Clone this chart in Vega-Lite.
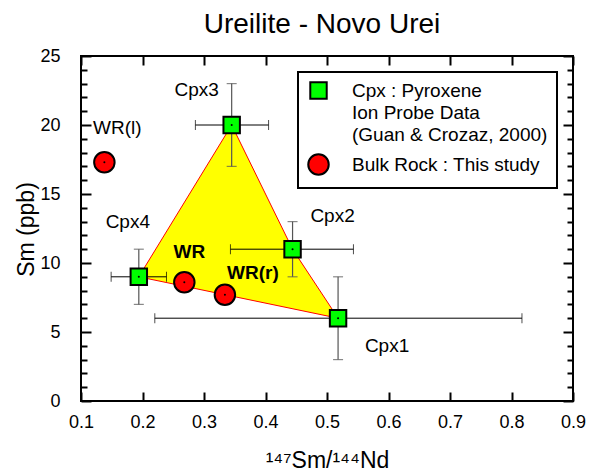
{
  "$schema": "https://vega.github.io/schema/vega-lite/v6.json",
  "autosize": "none",
  "width": 492,
  "height": 345,
  "padding": {"left": 81, "top": 56, "right": 16, "bottom": 71},
  "background": "white",
  "config": {
    "view": {"stroke": "black", "strokeWidth": 2},
    "font": "Liberation Sans",
    "axis": {"grid": false, "domain": false, "labelFlush": false, "labelColor": "black", "tickColor": "black", "titleColor": "black", "titleFontWeight": "normal", "labelFont": "Liberation Sans", "titleFont": "Liberation Sans"},
    "legend": {"title": null, "orient": "top-right", "offset": 16, "strokeColor": "black", "fillColor": "white", "padding": 9, "labelFontSize": 19, "labelLimit": 300, "labelColor": "black", "labelOffset": 22, "symbolStrokeColor": "black", "symbolStrokeWidth": 2, "rowPadding": 5}
  },
  "title": {"text": "Ureilite - Novo Urei", "fontSize": 28, "font": "Liberation Sans", "fontWeight": "normal", "color": "black", "baseline": "alphabetic", "frame": "group", "offset": -14, "dx": -5, "anchor": "middle"},
  "datasets": {
    "pts": [
      {"name": "Cpx1", "type": "Cpx", "x": 0.518, "y": 6.0, "xlo": 0.220, "xhi": 0.817, "ylo": 3.0, "yhi": 9.0},
      {"name": "Cpx2", "type": "Cpx", "x": 0.444, "y": 11.0, "xlo": 0.343, "xhi": 0.543, "ylo": 9.0, "yhi": 13.0},
      {"name": "Cpx3", "type": "Cpx", "x": 0.345, "y": 20.0, "xlo": 0.286, "xhi": 0.405, "ylo": 17.0, "yhi": 23.0},
      {"name": "Cpx4", "type": "Cpx", "x": 0.194, "y": 9.0, "xlo": 0.149, "xhi": 0.239, "ylo": 7.0, "yhi": 11.0},
      {"name": "WR(l)", "type": "Bulk", "x": 0.138, "y": 17.3},
      {"name": "WR", "type": "Bulk", "x": 0.268, "y": 8.6},
      {"name": "WR(r)", "type": "Bulk", "x": 0.334, "y": 7.7}
    ],
    "poly": [
      {"i": 0, "name": "Cpx4", "x": 0.194, "y": 9.0},
      {"i": 1, "name": "Cpx3", "x": 0.345, "y": 20.0},
      {"i": 2, "name": "Cpx2", "x": 0.444, "y": 11.0},
      {"i": 3, "name": "Cpx1", "x": 0.518, "y": 6.0},
      {"i": 4, "name": "Cpx4", "x": 0.194, "y": 9.0}
    ]
  },
  "resolve": {"axis": {"x": "independent", "y": "independent"}},
  "layer": [
    {
      "data": {"name": "poly"},
      "mark": {"type": "line", "fill": "#ffff00", "stroke": "#ff0000", "strokeWidth": 1},
      "encoding": {
        "x": {"field": "x", "type": "quantitative", "scale": {"domain": [0.1, 0.9], "nice": false, "zero": false},
          "axis": {"orient": "bottom", "values": [0.1, 0.2, 0.3, 0.4, 0.5, 0.6, 0.7, 0.8, 0.9], "format": ".1f", "tickSize": -9, "tickWidth": 2, "labelFontSize": 18, "labelPadding": 21, "title": "¹⁴⁷Sm/¹⁴⁴Nd", "titleFontSize": 23, "titleBaseline": "alphabetic", "titleX": 246, "titleY": 66}},
        "y": {"field": "y", "type": "quantitative", "scale": {"domain": [0, 25], "nice": false, "zero": false},
          "axis": {"orient": "left", "values": [0,1,2,3,4,5,6,7,8,9,10,11,12,13,14,15,16,17,18,19,20,21,22,23,24,25], "labelExpr": "datum.value % 5 === 0 ? datum.label : ''", "tickSize": {"condition": {"test": "datum.value % 5 === 0", "value": -10}, "value": -6}, "tickWidth": 2, "labelFontSize": 18, "labelPadding": 31, "title": "Sm (ppb)", "titleFontSize": 23, "titleBaseline": "alphabetic", "titleAlign": "center", "titleX": -48, "titleY": 173}},
        "order": {"field": "i", "type": "quantitative"}
      }
    },
    {
      "data": {"name": "pts"},
      "transform": [{"filter": "datum.type === 'Cpx'"}],
      "mark": {"type": "rule", "color": "black", "strokeWidth": 1},
      "encoding": {
        "x": {"field": "xlo", "type": "quantitative", "axis": {"orient": "top", "values": [0.1, 0.2, 0.3, 0.4, 0.5, 0.6, 0.7, 0.8, 0.9], "labels": false, "tickSize": -9, "tickWidth": 2, "title": null}},
        "x2": {"field": "xhi"},
        "y": {"field": "y", "type": "quantitative", "axis": {"orient": "right", "values": [0,1,2,3,4,5,6,7,8,9,10,11,12,13,14,15,16,17,18,19,20,21,22,23,24,25], "labels": false, "tickSize": {"condition": {"test": "datum.value % 5 === 0", "value": -10}, "value": -6}, "tickWidth": 2, "title": null}}
      }
    },
    {
      "data": {"name": "pts"},
      "transform": [{"filter": "datum.type === 'Cpx'"}],
      "mark": {"type": "rule", "color": "#555555", "strokeWidth": 1.2},
      "encoding": {
        "x": {"field": "x", "type": "quantitative", "axis": null},
        "y": {"field": "ylo", "type": "quantitative", "axis": null},
        "y2": {"field": "yhi"}
      }
    },
    {
      "data": {"name": "pts"},
      "transform": [{"filter": "datum.type === 'Cpx'"}, {"fold": ["xlo", "xhi"], "as": ["end", "xe"]}],
      "mark": {"type": "tick", "orient": "vertical", "color": "black", "size": 10, "thickness": 1},
      "encoding": {
        "x": {"field": "xe", "type": "quantitative", "axis": null},
        "y": {"field": "y", "type": "quantitative", "axis": null}
      }
    },
    {
      "data": {"name": "pts"},
      "transform": [{"filter": "datum.type === 'Cpx'"}, {"fold": ["ylo", "yhi"], "as": ["end", "ye"]}],
      "mark": {"type": "tick", "orient": "horizontal", "color": "#555555", "size": 10, "thickness": 1.2},
      "encoding": {
        "x": {"field": "x", "type": "quantitative", "axis": null},
        "y": {"field": "ye", "type": "quantitative", "axis": null}
      }
    },
    {
      "data": {"name": "pts"},
      "mark": {"type": "point", "filled": true, "stroke": "black", "strokeWidth": 2, "opacity": 1},
      "encoding": {
        "x": {"field": "x", "type": "quantitative", "axis": null},
        "y": {"field": "y", "type": "quantitative", "axis": null},
        "shape": {"field": "type", "type": "nominal", "scale": {"domain": ["Cpx", "Bulk"], "range": ["square", "circle"]},
          "legend": {"labelExpr": "datum.value === 'Cpx' ? ['Cpx : Pyroxene', 'Ion Probe Data', '(Guan & Crozaz, 2000)'] : 'Bulk Rock : This study'",
            "encoding": {"symbols": {"stroke": {"value": "black"}, "strokeWidth": {"value": 2}}, "labels": {"lineHeight": {"value": 22}}, "legend": {"strokeWidth": {"value": 2}}}}},
        "fill": {"field": "type", "type": "nominal", "scale": {"domain": ["Cpx", "Bulk"], "range": ["#00ff00", "#ff0000"]},
          "legend": {"labelExpr": "datum.value === 'Cpx' ? ['Cpx : Pyroxene', 'Ion Probe Data', '(Guan & Crozaz, 2000)'] : 'Bulk Rock : This study'",
            "encoding": {"symbols": {"stroke": {"value": "black"}, "strokeWidth": {"value": 2}}, "labels": {"lineHeight": {"value": 22}}, "legend": {"strokeWidth": {"value": 2}}}}},
        "size": {"field": "type", "type": "nominal", "scale": {"domain": ["Cpx", "Bulk"], "range": [270, 420]},
          "legend": {"labelExpr": "datum.value === 'Cpx' ? ['Cpx : Pyroxene', 'Ion Probe Data', '(Guan & Crozaz, 2000)'] : 'Bulk Rock : This study'",
            "encoding": {"symbols": {"stroke": {"value": "black"}, "strokeWidth": {"value": 2}}, "labels": {"lineHeight": {"value": 22}}, "legend": {"strokeWidth": {"value": 2}}}}}
      }
    },
    {
      "data": {"name": "pts"},
      "mark": {"type": "point", "filled": true, "color": "black", "size": 4, "opacity": 1},
      "encoding": {
        "x": {"field": "x", "type": "quantitative", "axis": null},
        "y": {"field": "y", "type": "quantitative", "axis": null}
      }
    },
    {
      "data": {"name": "pts"},
      "transform": [{"filter": "datum.name === 'Cpx3'"}],
      "mark": {"type": "text", "fontSize": 19, "color": "black", "dx": -35, "dy": -35},
      "encoding": {"x": {"field": "x", "type": "quantitative", "axis": null}, "y": {"field": "y", "type": "quantitative", "axis": null}, "text": {"field": "name"}}
    },
    {
      "data": {"name": "pts"},
      "transform": [{"filter": "datum.name === 'Cpx2'"}],
      "mark": {"type": "text", "fontSize": 19, "color": "black", "dx": 40, "dy": -33},
      "encoding": {"x": {"field": "x", "type": "quantitative", "axis": null}, "y": {"field": "y", "type": "quantitative", "axis": null}, "text": {"field": "name"}}
    },
    {
      "data": {"name": "pts"},
      "transform": [{"filter": "datum.name === 'Cpx1'"}],
      "mark": {"type": "text", "fontSize": 19, "color": "black", "dx": 49, "dy": 28},
      "encoding": {"x": {"field": "x", "type": "quantitative", "axis": null}, "y": {"field": "y", "type": "quantitative", "axis": null}, "text": {"field": "name"}}
    },
    {
      "data": {"name": "pts"},
      "transform": [{"filter": "datum.name === 'Cpx4'"}],
      "mark": {"type": "text", "fontSize": 19, "color": "black", "dx": -11, "dy": -55},
      "encoding": {"x": {"field": "x", "type": "quantitative", "axis": null}, "y": {"field": "y", "type": "quantitative", "axis": null}, "text": {"field": "name"}}
    },
    {
      "data": {"name": "pts"},
      "transform": [{"filter": "datum.name === 'WR(l)'"}],
      "mark": {"type": "text", "fontSize": 19, "color": "black", "dx": 13, "dy": -34},
      "encoding": {"x": {"field": "x", "type": "quantitative", "axis": null}, "y": {"field": "y", "type": "quantitative", "axis": null}, "text": {"field": "name"}}
    },
    {
      "data": {"name": "pts"},
      "transform": [{"filter": "datum.name === 'WR'"}],
      "mark": {"type": "text", "fontSize": 19, "fontWeight": "bold", "color": "black", "dx": 5, "dy": -30},
      "encoding": {"x": {"field": "x", "type": "quantitative", "axis": null}, "y": {"field": "y", "type": "quantitative", "axis": null}, "text": {"field": "name"}}
    },
    {
      "data": {"name": "pts"},
      "transform": [{"filter": "datum.name === 'WR(r)'"}],
      "mark": {"type": "text", "fontSize": 19, "fontWeight": "bold", "color": "black", "dx": 28, "dy": -22},
      "encoding": {"x": {"field": "x", "type": "quantitative", "axis": null}, "y": {"field": "y", "type": "quantitative", "axis": null}, "text": {"field": "name"}}
    }
  ]
}
